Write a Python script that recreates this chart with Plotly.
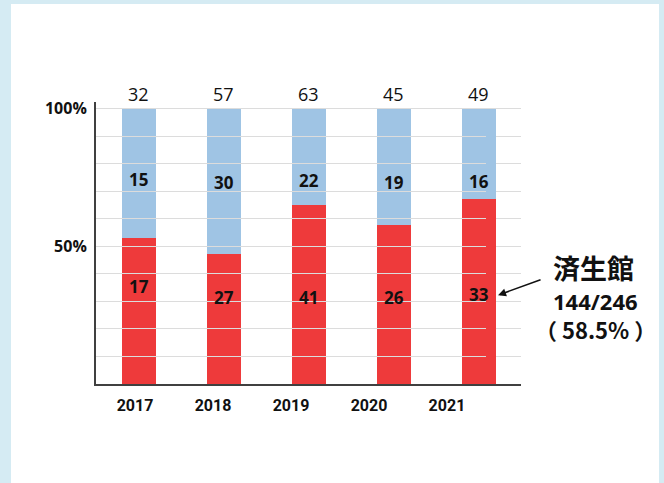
import plotly.graph_objects as go

years = ["2017", "2018", "2019", "2020", "2021"]
saiseikan = [17, 27, 41, 26, 33]      # red (lower)
others = [15, 30, 22, 19, 16]         # blue (upper)
totals = [a + b for a, b in zip(saiseikan, others)]

# label heights (percent of axis) as placed in the reference
red_label_y = [35.3, 31.3, 31.3, 31.3, 32.7]
blue_label_y = [74.2, 73.1, 73.8, 73.1, 73.5]

RED = "#ee3a3b"
BLUE = "#9fc4e4"
BORDER = "#d5ebf3"

fig = go.Figure()
fig.add_trace(go.Bar(x=years, y=saiseikan, marker=dict(color=RED, line=dict(width=0)),
                     width=0.4, hoverinfo="skip"))
fig.add_trace(go.Bar(x=years, y=others, marker=dict(color=BLUE, line=dict(width=0)),
                     width=0.4, hoverinfo="skip"))
# invisible trace for the year-label axis
fig.add_trace(go.Scatter(x=list(range(len(years))), y=[None] * len(years), xaxis="x2",
                         mode="markers", showlegend=False, hoverinfo="skip"))

annotations = []
bold = dict(family="Open Sans", size=17, color="#111111", weight="bold")
for i, yr in enumerate(years):
    annotations.append(dict(x=i, y=red_label_y[i], xref="x", yref="y", text=str(saiseikan[i]),
                            showarrow=False, font=bold))
    annotations.append(dict(x=i, y=blue_label_y[i], xref="x", yref="y", text=str(others[i]),
                            showarrow=False, font=bold))
    annotations.append(dict(x=i, y=100, xref="x", yref="y", text=str(totals[i]),
                            showarrow=False, yanchor="bottom", yshift=1,
                            font=dict(family="Open Sans", size=18, color="#111111")))

# right-side callout
annotations.append(dict(x=1.071, y=42.4, xref="paper", yref="y", text="済生館", xanchor="left",
                        showarrow=False,
                        font=dict(family="Noto Sans CJK JP", size=27, color="#111111", weight="bold")))
annotations.append(dict(x=1.071, y=30.2, xref="paper", yref="y", text="144/246", xanchor="left",
                        showarrow=False,
                        font=dict(family="Open Sans", size=22, color="#111111", weight="bold")))
annotations.append(dict(x=1.028, y=20.0, xref="paper", yref="y", text="（ 58.5% ）", xanchor="left",
                        showarrow=False,
                        font=dict(family="Noto Sans CJK JP", size=22, color="#111111", weight="bold")))
annotations.append(dict(x=0.946, y=32.3, xref="paper", yref="y", text="", showarrow=True,
                        ax=44, ay=-16, axref="pixel", ayref="pixel",
                        arrowhead=2, arrowsize=1, arrowwidth=1.6, arrowcolor="#111111"))

fig.update_layout(
    width=664, height=483,
    margin=dict(l=96, r=143, t=102, b=99),
    paper_bgcolor=BORDER,
    plot_bgcolor="rgba(0,0,0,0)",
    barmode="stack", barnorm="percent",
    showlegend=False,
    xaxis=dict(type="category", categoryarray=years, range=[-0.5, 4.5],
               showticklabels=False, showline=True, linecolor="#404040", linewidth=2,
               showgrid=False, zeroline=False, ticks=""),
    xaxis2=dict(domain=[0, 0.9176], anchor="y", range=[-0.5, 4.5], tickmode="array",
                tickvals=list(range(len(years))), ticktext=years, showline=False,
                showgrid=False, zeroline=False, ticks="", ticklabelstandoff=10,
                tickfont=dict(family="Roboto", size=16, color="#111111", weight="bold")),
    yaxis=dict(range=[0, 102.5], tickmode="array", tickvals=list(range(0, 101, 10)),
               ticktext=["" if v not in (50, 100) else f"{v}%" for v in range(0, 101, 10)],
               showline=True, linecolor="#404040", linewidth=2,
               showgrid=True, gridcolor="#dcdcdc", gridwidth=1, zeroline=False,
               ticks="", ticklabelstandoff=4,
               tickfont=dict(family="Open Sans", size=16, color="#111111", weight="bold")),
    annotations=annotations,
    shapes=[dict(type="rect", xref="paper", yref="paper", layer="below",
                 x0=(11 - 96) / 425, x1=(659 - 96) / 425,
                 y0=(384 - 490) / 282, y1=(384 - 4) / 282,
                 fillcolor="white", line=dict(width=0))],
)

fig.write_html("out.html")
